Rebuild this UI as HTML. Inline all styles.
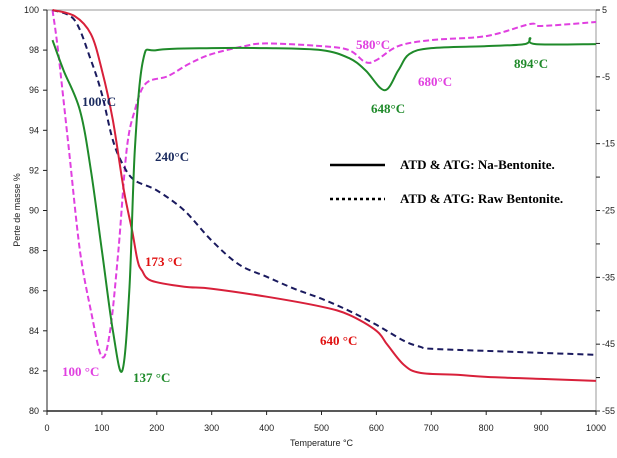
<!DOCTYPE html>
<html><head><meta charset="utf-8"><style>
body{margin:0;background:#fff;}
svg{display:block;font-family:"Liberation Serif",serif;}
.ax{font-family:"Liberation Sans",sans-serif;font-size:9px;fill:#222;}
.lb{font-weight:bold;font-size:13px;}
</style></head><body>
<svg id="chart" width="617" height="458">
<g id="axes"></g><g id="series"></g><g id="labels"></g>
</svg>
<script>
const naTgT=[10,50,80,100,120,140,155,165,173,190,250,300,400,500,550,600,620,650,680,750,800,900,1000];
const naTgV=[100,99.7,98.8,97,94.5,91,89,87.5,87,86.5,86.2,86.1,85.7,85.2,84.8,84,83.3,82.3,81.9,81.8,81.7,81.6,81.5];
const rawTgT=[10,50,80,100,120,140,160,200,250,300,350,400,450,500,550,600,650,680,700,800,900,1000];
const rawTgV=[100,99.5,97.5,95.8,93.5,92.2,91.5,91,90,88.5,87.3,86.7,86.1,85.6,85,84.3,83.5,83.2,83.1,83.0,82.9,82.8];
const naDtaT=[10,30,60,80,100,120,137,150,160,175,200,300,400,500,550,580,615,640,660,700,800,870,880,890,1000];
const naDtaV=[0.5,-4,-10,-19,-31,-43,-49,-37,-16,-2.5,-1,-0.7,-0.7,-1,-2.2,-4,-7,-4,-1.6,-0.7,-0.4,-0.1,0.8,-0.1,-0.1];
const rawDtaT=[10,20,40,60,80,100,115,130,145,160,180,220,260,300,360,400,500,550,580,600,640,700,800,880,900,1000];
const rawDtaV=[5,-1,-16,-31,-40,-46.9,-43,-31,-16,-10,-6,-4.9,-3,-1.6,-0.4,0,-0.4,-1,-2.8,-2.5,-0.4,0.5,1.1,2.9,2.6,3.2];
const xTicks=[0,100,200,300,400,500,600,700,800,900,1000];
const yTicks=[80,82,84,86,88,90,92,94,96,98,100];
const y2Ticks=[5,-5,-15,-25,-35,-45,-55];
const X0=47,X1=596,Y0=10,Y1=411;
const x=t=>X0+(t/1000)*(X1-X0);
const y=v=>Y1-(v-80)/20*(Y1-Y0);
const y2=v=>Y1-(v+55)/60*(Y1-Y0);
const NS="http://www.w3.org/2000/svg";
function mk(tag,attrs,parent,text){const e=document.createElementNS(NS,tag);for(const k in attrs)e.setAttribute(k,attrs[k]);if(text!==undefined)e.textContent=text;parent.appendChild(e);return e;}
const ax=document.getElementById('axes'),se=document.getElementById('series'),lb=document.getElementById('labels');
let f=mk('rect',{x:X0,y:Y0,width:X1-X0,height:Y1-Y0,fill:'none',stroke:'#999','stroke-width':1},ax);

let bl=mk('line',{x1:X0,y1:Y1,x2:X1,y2:Y1,stroke:'#222','stroke-width':1.5},ax);

let yl=mk('line',{x1:X0,y1:Y0,x2:X0,y2:Y1,stroke:'#222','stroke-width':1},ax);

xTicks.forEach(t=>{mk('line',{x1:x(t),y1:Y1,x2:x(t),y2:Y1+4,stroke:'#222'},ax);
 const e=mk('text',{x:x(t),y:Y1+20,'text-anchor':'middle',class:'ax'},ax,t);
 });
yTicks.forEach(v=>{mk('line',{x1:X0-4,y1:y(v),x2:X0,y2:y(v),stroke:'#222'},ax);
 const e=mk('text',{x:X0-8,y:y(v)+3,'text-anchor':'end',class:'ax'},ax,v);
 });
for(let v=5;v>=-55;v-=5)mk('line',{x1:X1,y1:y2(v),x2:X1+4,y2:y2(v),stroke:'#222'},ax);
y2Ticks.forEach(v=>{const e=mk('text',{x:X1+6,y:y2(v)+3,class:'ax'},ax,v);
 });
let xt=mk('text',{x:(X0+X1)/2,y:446,'text-anchor':'middle',class:'ax'},ax,'Temperature °C');

let yt=mk('text',{x:0,y:0,'text-anchor':'middle',class:'ax',transform:'translate(20,210) rotate(-90)'},ax,'Perte de masse %');

function path(T,V,fy){
 const P=T.map((t,i)=>[x(t),fy(V[i])]);
 let d='M'+P[0][0].toFixed(1)+','+P[0][1].toFixed(1);
 for(let i=0;i<P.length-1;i++){
  const p0=P[Math.max(0,i-1)],p1=P[i],p2=P[i+1],p3=P[Math.min(P.length-1,i+2)];
  const k=1/6;
  const c1=[p1[0]+(p2[0]-p0[0])*k,p1[1]+(p2[1]-p0[1])*k];
  const c2=[p2[0]-(p3[0]-p1[0])*k,p2[1]-(p3[1]-p1[1])*k];
  d+=' C'+c1.map(n=>n.toFixed(1)).join(',')+' '+c2.map(n=>n.toFixed(1)).join(',')+' '+p2.map(n=>n.toFixed(1)).join(',');
 }
 return d;}
let p;
p=mk('path',{d:path(rawDtaT,rawDtaV,y2),fill:'none',stroke:'#e040e0','stroke-width':2,'stroke-dasharray':'6,3','stroke-linejoin':'round'},se);

p=mk('path',{d:path(rawTgT,rawTgV,y),fill:'none',stroke:'#1a1a5e','stroke-width':2,'stroke-dasharray':'6,4'},se);

p=mk('path',{d:path(naTgT,naTgV,y),fill:'none',stroke:'#d8203a','stroke-width':2,'stroke-linejoin':'round'},se);

p=mk('path',{d:path(naDtaT,naDtaV,y2),fill:'none',stroke:'#1f8a2a','stroke-width':2,'stroke-linejoin':'round'},se);

const anns=[['100°C',82,106,'#1a2a5e'],['240°C',155,161,'#1a2a5e'],['173 °C',145,266,'#e01010'],['640 °C',320,345,'#e01010'],['100 °C',62,376,'#e040e0'],['137 °C',133,382,'#1f8a2a'],['580°C',356,49,'#e040e0'],['648°C',371,113,'#1f8a2a'],['680°C',418,86,'#e040e0'],['894°C',514,68,'#1f8a2a']];
anns.forEach(a=>{const e=mk('text',{x:a[1],y:a[2],fill:a[3],class:'lb'},lb,a[0]);
 });
let l1=mk('line',{x1:330,y1:165,x2:385,y2:165,stroke:'#000','stroke-width':2.5},lb);

let t1=mk('text',{x:400,y:169,class:'lb',fill:'#000'},lb,'ATD & ATG: Na-Bentonite.');

let l2=mk('line',{x1:330,y1:199,x2:385,y2:199,stroke:'#000','stroke-width':2.5,'stroke-dasharray':'3,3'},lb);

let t2=mk('text',{x:400,y:203,class:'lb',fill:'#000'},lb,'ATD & ATG: Raw Bentonite.');

</script>
</body></html>
